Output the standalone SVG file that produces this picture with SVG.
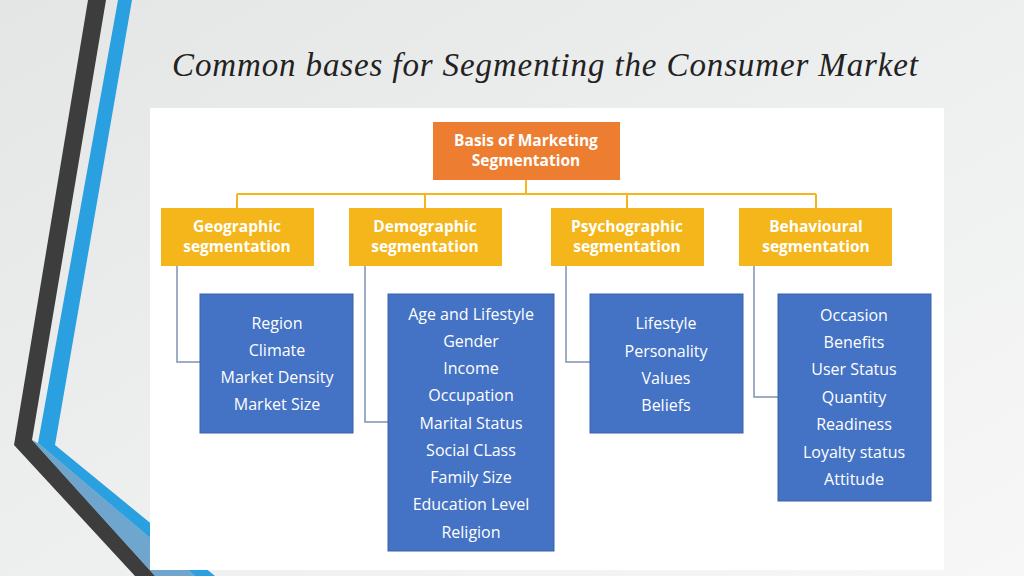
<svg xmlns="http://www.w3.org/2000/svg" width="1024" height="576" viewBox="0 0 1024 576">
<defs>
<linearGradient id="bg" x1="0" y1="0" x2="1" y2="1"><stop offset="0" stop-color="#e4e6e6"/><stop offset="1" stop-color="#f7f7f7"/></linearGradient>
<style>
.cat{fill:#F4B61A}
.lst{fill:#4472C4;stroke:#3a62a8;stroke-width:1}
.t{font-family:"Open Sans","Liberation Sans",sans-serif;fill:#fff;text-anchor:middle}
.b{font-weight:bold;font-size:15.5px}
.l{font-size:16px}
.y{stroke:#F4B61A;stroke-width:2;fill:none}
.g{stroke:#7f93b3;stroke-width:1.5;fill:none}
</style>
</defs>
<rect width="1024" height="576" fill="url(#bg)"/>
<polygon points="88,0 106,0 32,440 155,576 135,576 14,445" fill="#3d3d3d"/>
<polygon points="118,0 132,0 55,445 215,576 195,576 38,443" fill="#2aa0e0"/>
<polygon points="32,440 38,443 195,576 155,576" fill="#1b75b8" opacity="0.6"/>
<text x="172" y="76" font-family="Liberation Serif,serif" font-style="italic" font-size="33" fill="#222" textLength="746">Common bases for Segmenting the Consumer Market</text>
<rect x="150" y="108" width="794" height="462" fill="#fff"/>
<g id="connectors">
<path class="y" d="M526 180V194M237 194H816M237 194V208M425 194V208M627 194V208M816 194V208"/>
<path class="g" d="M177 266V362H200M365 266V422H388M566 266V362H590M754 266V397H778"/>
</g>
<g id="root"><rect x="433" y="122" width="187" height="58" fill="#ED7D31"/>
<text class="t b" x="526" y="146">Basis of Marketing</text><text class="t b" x="526" y="166">Segmentation</text></g>
<g id="geo"><rect class="cat" x="161" y="208" width="153" height="58"/><text class="t b" x="237" y="232">Geographic</text><text class="t b" x="237" y="252">segmentation</text></g>
<g id="demo"><rect class="cat" x="349" y="208" width="153" height="58"/><text class="t b" x="425" y="232">Demographic</text><text class="t b" x="425" y="252">segmentation</text></g>
<g id="psy"><rect class="cat" x="551" y="208" width="153" height="58"/><text class="t b" x="627" y="232">Psychographic</text><text class="t b" x="627" y="252">segmentation</text></g>
<g id="beh"><rect class="cat" x="739" y="208" width="153" height="58"/><text class="t b" x="816" y="232">Behavioural</text><text class="t b" x="816" y="252">segmentation</text></g>
<g id="geoList"><rect class="lst" x="200" y="294" width="153" height="139"/>
<text class="t l" x="277" y="329">Region</text><text class="t l" x="277" y="356">Climate</text><text class="t l" x="277" y="383">Market Density</text><text class="t l" x="277" y="410">Market Size</text></g>
<g id="demoList"><rect class="lst" x="388" y="294" width="166" height="257"/>
<text class="t l" x="471" y="320">Age and Lifestyle</text><text class="t l" x="471" y="347">Gender</text><text class="t l" x="471" y="374">Income</text><text class="t l" x="471" y="401">Occupation</text><text class="t l" x="471" y="429">Marital Status</text><text class="t l" x="471" y="456">Social CLass</text><text class="t l" x="471" y="483">Family Size</text><text class="t l" x="471" y="510">Education Level</text><text class="t l" x="471" y="538">Religion</text></g>
<g id="psyList"><rect class="lst" x="590" y="294" width="153" height="139"/>
<text class="t l" x="666" y="329">Lifestyle</text><text class="t l" x="666" y="357">Personality</text><text class="t l" x="666" y="384">Values</text><text class="t l" x="666" y="411">Beliefs</text></g>
<g id="behList"><rect class="lst" x="778" y="294" width="153" height="207"/>
<text class="t l" x="854" y="321">Occasion</text><text class="t l" x="854" y="348">Benefits</text><text class="t l" x="854" y="375">User Status</text><text class="t l" x="854" y="403">Quantity</text><text class="t l" x="854" y="430">Readiness</text><text class="t l" x="854" y="458">Loyalty status</text><text class="t l" x="854" y="485">Attitude</text></g>
</svg>
